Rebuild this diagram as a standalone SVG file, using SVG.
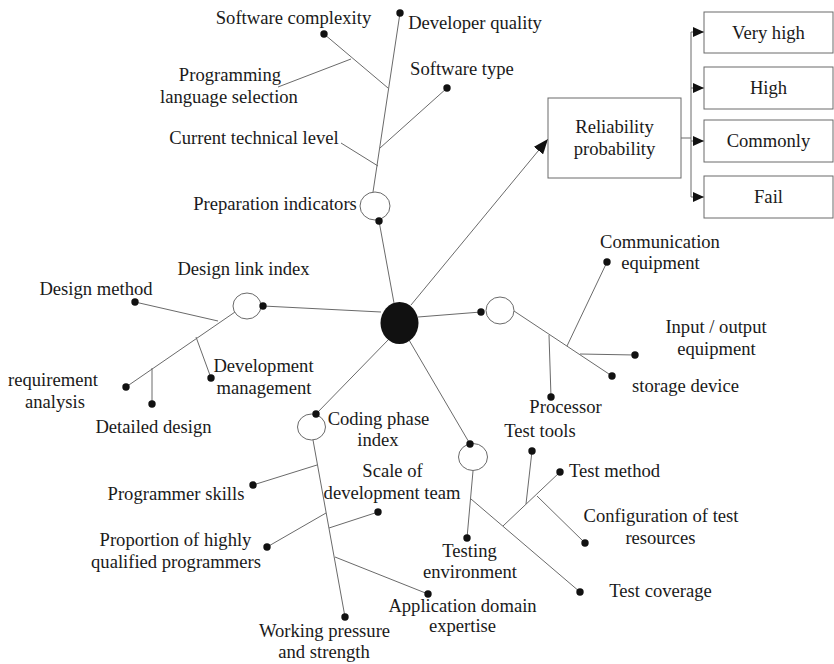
<svg xmlns="http://www.w3.org/2000/svg" width="834" height="664" viewBox="0 0 834 664">
<style>
  text { font-family: "Liberation Serif", "Times New Roman", serif; font-size: 18.6px; fill: #1a1a1a; }
  .m { text-anchor: middle; }
  .ln { stroke: #6a6a6a; stroke-width: 1; fill: none; }
  .dot { fill: #111; }
  .hub { fill: #fff; stroke: #6a6a6a; stroke-width: 1; }
  .box { fill: #fff; stroke: #6a6a6a; stroke-width: 1; }
</style>
<defs>
  <marker id="bigArrow" markerUnits="userSpaceOnUse" markerWidth="16" markerHeight="12" refX="15" refY="6" orient="auto">
    <path d="M0,0 L15,6 L0,12 z" fill="#111"/>
  </marker>
  <marker id="smallArrow" markerUnits="userSpaceOnUse" markerWidth="12" markerHeight="10" refX="11" refY="5" orient="auto">
    <path d="M0,0 L11,5 L0,10 z" fill="#111"/>
  </marker>
</defs>
<rect width="834" height="664" fill="#fff"/>

<g id="connectors">
  <!-- preparation -->
  <line class="ln" x1="400" y1="13" x2="373" y2="192"/>
  <line class="ln" x1="324" y1="34" x2="388" y2="88"/>
  <line class="ln" x1="278" y1="87" x2="351" y2="59"/>
  <line class="ln" x1="447" y1="88" x2="380" y2="148"/>
  <line class="ln" x1="341" y1="143" x2="378" y2="166"/>
  <line class="ln" x1="379" y1="221" x2="394" y2="303"/>
  <!-- design -->
  <line class="ln" x1="263" y1="306" x2="381" y2="312"/>
  <line class="ln" x1="235" y1="312" x2="126" y2="387"/>
  <line class="ln" x1="135" y1="302" x2="218" y2="321"/>
  <line class="ln" x1="196" y1="337" x2="211" y2="378"/>
  <line class="ln" x1="152" y1="368" x2="152" y2="404"/>
  <!-- coding -->
  <line class="ln" x1="316" y1="414" x2="389" y2="339"/>
  <line class="ln" x1="313" y1="440" x2="345" y2="617"/>
  <line class="ln" x1="317" y1="465" x2="253" y2="485"/>
  <line class="ln" x1="378" y1="512" x2="329" y2="528"/>
  <line class="ln" x1="326" y1="513" x2="267" y2="547"/>
  <line class="ln" x1="335" y1="557" x2="428" y2="594"/>
  <!-- testing -->
  <line class="ln" x1="470" y1="444" x2="409" y2="340"/>
  <line class="ln" x1="473" y1="471" x2="467" y2="538"/>
  <line class="ln" x1="471" y1="499" x2="580" y2="592"/>
  <line class="ln" x1="503" y1="526" x2="560" y2="472"/>
  <line class="ln" x1="526" y1="504" x2="532" y2="451"/>
  <line class="ln" x1="537" y1="496" x2="585" y2="543"/>
  <!-- hardware -->
  <line class="ln" x1="418" y1="317" x2="481" y2="312"/>
  <line class="ln" x1="514" y1="311" x2="612" y2="376"/>
  <line class="ln" x1="549" y1="335" x2="551" y2="397"/>
  <line class="ln" x1="567" y1="346" x2="607" y2="262"/>
  <line class="ln" x1="580" y1="354" x2="635" y2="355"/>
  <!-- main arrow -->
  <line class="ln" x1="411" y1="305" x2="548" y2="139" marker-end="url(#bigArrow)"/>
  <!-- outputs -->
  <polyline class="ln" points="681,138 691,138"/>
  <line class="ln" x1="691" y1="32" x2="691" y2="197"/>
  <line class="ln" x1="691" y1="32" x2="704" y2="32" marker-end="url(#smallArrow)"/>
  <line class="ln" x1="691" y1="88" x2="704" y2="88" marker-end="url(#smallArrow)"/>
  <line class="ln" x1="691" y1="141" x2="704" y2="141" marker-end="url(#smallArrow)"/>
  <line class="ln" x1="691" y1="197" x2="704" y2="197" marker-end="url(#smallArrow)"/>
</g>

<g id="center-node">
  <ellipse cx="399.5" cy="323" rx="19" ry="21" fill="#111"/>
</g>

<g id="preparation">
  <ellipse class="hub" cx="375" cy="206" rx="15" ry="14"/>
  <circle class="dot" cx="379" cy="221" r="3.7"/>
  <text class="m" x="275" y="210">Preparation indicators</text>
</g>
<g id="developer-quality"><circle class="dot" cx="400" cy="13" r="3.7"/><text class="m" x="475" y="29">Developer quality</text></g>
<g id="software-complexity"><circle class="dot" cx="324" cy="34" r="3.7"/><text class="m" x="293.5" y="24">Software complexity</text></g>
<g id="programming-language"><text class="m" x="230" y="81">Programming</text><text class="m" x="229" y="103">language selection</text></g>
<g id="software-type"><circle class="dot" cx="447" cy="88" r="3.7"/><text class="m" x="462" y="75">Software type</text></g>
<g id="current-technical-level"><text class="m" x="254" y="144">Current technical level</text></g>

<g id="reliability">
  <rect class="box" x="548" y="98" width="133" height="80"/>
  <text class="m" x="614.5" y="133">Reliability</text>
  <text class="m" x="614.5" y="155">probability</text>
</g>
<g id="very-high"><rect class="box" x="704" y="12" width="129" height="41"/><text class="m" x="768.5" y="39">Very high</text></g>
<g id="high"><rect class="box" x="704" y="67" width="129" height="42"/><text class="m" x="768.5" y="94">High</text></g>
<g id="commonly"><rect class="box" x="704" y="120" width="129" height="42"/><text class="m" x="768.5" y="147">Commonly</text></g>
<g id="fail"><rect class="box" x="704" y="176" width="129" height="42"/><text class="m" x="768.5" y="203">Fail</text></g>

<g id="design">
  <ellipse class="hub" cx="247" cy="306" rx="14" ry="13"/>
  <circle class="dot" cx="263" cy="306" r="3.7"/>
  <text class="m" x="243.5" y="275">Design link index</text>
</g>
<g id="design-method"><circle class="dot" cx="135" cy="302" r="3.7"/><text class="m" x="96" y="295">Design method</text></g>
<g id="requirement-analysis"><circle class="dot" cx="126" cy="387" r="3.7"/><text class="m" x="53" y="386">requirement</text><text class="m" x="55" y="408">analysis</text></g>
<g id="detailed-design"><circle class="dot" cx="152" cy="404" r="3.7"/><text class="m" x="153.5" y="433">Detailed design</text></g>
<g id="development-management"><circle class="dot" cx="211" cy="378" r="3.7"/><text class="m" x="263.5" y="372">Development</text><text class="m" x="264" y="394">management</text></g>

<g id="coding">
  <ellipse class="hub" cx="311.5" cy="427" rx="14" ry="13"/>
  <circle class="dot" cx="316" cy="414" r="3.7"/>
  <text class="m" x="378.5" y="425">Coding phase</text>
  <text class="m" x="378" y="446">index</text>
</g>
<g id="programmer-skills"><circle class="dot" cx="253" cy="485" r="3.7"/><text class="m" x="176" y="500">Programmer skills</text></g>
<g id="team-scale"><circle class="dot" cx="378" cy="512" r="3.7"/><text class="m" x="392.5" y="477">Scale of</text><text class="m" x="392" y="499">development team</text></g>
<g id="qualified-programmers"><circle class="dot" cx="267" cy="547" r="3.7"/><text class="m" x="175.5" y="546">Proportion of highly</text><text class="m" x="176" y="568">qualified programmers</text></g>
<g id="domain-expertise"><circle class="dot" cx="428" cy="594" r="3.7"/><text class="m" x="462.5" y="612">Application domain</text><text class="m" x="462.5" y="632">expertise</text></g>
<g id="working-pressure"><circle class="dot" cx="345" cy="617" r="3.7"/><text class="m" x="324.5" y="637">Working pressure</text><text class="m" x="324" y="658">and strength</text></g>

<g id="testing">
  <ellipse class="hub" cx="473" cy="457" rx="14.5" ry="13.5"/>
  <circle class="dot" cx="470" cy="444" r="3.7"/>
</g>
<g id="testing-environment"><circle class="dot" cx="467" cy="538" r="3.7"/><text class="m" x="469.5" y="557">Testing</text><text class="m" x="470" y="578">environment</text></g>
<g id="test-coverage"><circle class="dot" cx="580" cy="592" r="3.7"/><text class="m" x="660.5" y="597">Test coverage</text></g>
<g id="test-method"><circle class="dot" cx="560" cy="472" r="3.7"/><text x="569" y="477">Test method</text></g>
<g id="test-tools"><circle class="dot" cx="532" cy="451" r="3.7"/><text class="m" x="540" y="437">Test tools</text></g>
<g id="test-resources"><circle class="dot" cx="585" cy="543" r="3.7"/><text class="m" x="661" y="522">Configuration of test</text><text class="m" x="660.5" y="544">resources</text></g>

<g id="hardware">
  <ellipse class="hub" cx="500" cy="310.5" rx="14" ry="13.5"/>
  <circle class="dot" cx="481" cy="312" r="3.7"/>
</g>
<g id="communication-equipment"><circle class="dot" cx="607" cy="262" r="3.7"/><text class="m" x="660" y="248">Communication</text><text class="m" x="660.5" y="269">equipment</text></g>
<g id="io-equipment"><circle class="dot" cx="635" cy="355" r="3.7"/><text class="m" x="716" y="333">Input / output</text><text class="m" x="716.5" y="355">equipment</text></g>
<g id="storage-device"><circle class="dot" cx="612" cy="376" r="3.7"/><text class="m" x="685.5" y="392">storage device</text></g>
<g id="processor"><circle class="dot" cx="551" cy="397" r="3.7"/><text class="m" x="565.5" y="413">Processor</text></g>
</svg>
